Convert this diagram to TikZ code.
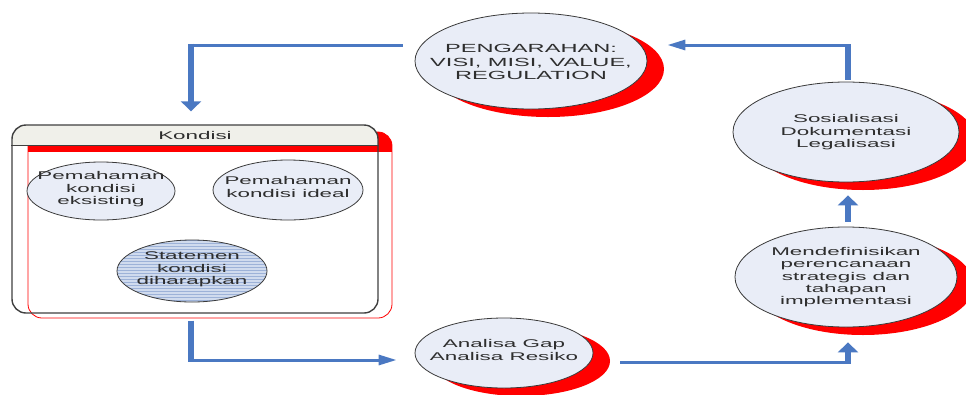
\documentclass[tikz,border=0pt]{standalone}
\usepackage{fontspec}
\setmainfont{Liberation Sans}
\newfontfamily\diagfont[FakeStretch=2.0]{Liberation Sans}
\usetikzlibrary{shapes.geometric,shadows,arrows.meta,patterns,calc}
\definecolor{bubblefill}{HTML}{E9EDF7}
\definecolor{bubbleline}{HTML}{3A3A3A}
\definecolor{flowblue}{HTML}{4A78C2}
\definecolor{headfill}{HTML}{F0F0EA}
\definecolor{boxline}{HTML}{404040}
\definecolor{statefill}{HTML}{D0DBEE}
\definecolor{stateline}{HTML}{9DB2D8}
\definecolor{txt}{HTML}{2E2E2E}
% centred multi-line text that takes no room, so the ellipse keeps its given size
\newcommand\btext[1]{\raisebox{-0.25em}{\makebox[0pt]{\smash{\begin{tabular}{@{}c@{}}#1\end{tabular}}}}}
\begin{document}
\begin{tikzpicture}[x=1pt,y=-1pt,
  bubble/.style={ellipse, draw=bubbleline, line width=0.8pt, fill=bubblefill,
    inner sep=0pt, text=txt,
    font=\fontsize{11.2}{12.4}\selectfont\diagfont},
  stage/.style={bubble, drop shadow={shadow xshift=17pt, shadow yshift=-8pt,
    fill=red, opacity=1}},
  hline/.style={draw=flowblue, line width=3pt},
  vline/.style={draw=flowblue, line width=6pt},
  vtip/.style={-{Triangle[width=20pt,length=10pt]}},
  htip/.style={-{Triangle[length=18pt,width=10pt]}},
]
\useasboundingbox (0,0) rectangle (966,394);
\fill[white] (0,0) rectangle (966,394);

% --- Kondisi container: red offset frame first, then the grey box ---
\begin{scope}
  \clip[rounded corners=14pt] (28,132) rectangle (392,318);
  \fill[red] (28,132) rectangle (392,152);
\end{scope}
\draw[red, line width=0.8pt, rounded corners=14pt] (28,132) rectangle (392,318);
\begin{scope}
  \clip[rounded corners=14pt] (12,125) rectangle (378,313);
  \fill[headfill] (12,125) rectangle (378,145);
\end{scope}
\node[draw=boxline, line width=1.4pt, rounded corners=14pt, inner sep=0pt,
  minimum width=366pt, minimum height=188pt] (kondisi) at (195,219) {};
\draw[boxline, line width=0.8pt] (kondisi.west |- 0,145) -- (kondisi.east |- 0,145);
\node[text=txt, font=\fontsize{11.2}{12.4}\selectfont\diagfont] (kondisiTitle) at (195,135) {Kondisi};

\node[bubble, minimum width=148pt, minimum height=58pt] (eksis) at (101,191)
  {\btext{Pemahaman\\kondisi\\eksisting}};
\node[bubble, minimum width=150pt, minimum height=60pt] (ideal) at (288,190)
  {\btext{Pemahaman\\kondisi ideal}};
\node[bubble, minimum width=150pt, minimum height=62pt,
  preaction={fill=statefill}, pattern=horizontal lines, pattern color=stateline]
  (harap) at (192,271) {\btext{Statemen\\kondisi\\diharapkan}};

% --- cycle stages ---
\node[stage, minimum width=232pt, minimum height=96pt,
  font=\fontsize{11.8}{13.5}\selectfont\diagfont] (arah) at (531,61)
  {\raisebox{-8pt}{\btext{PENGARAHAN:\\VISI, MISI, VALUE,\\REGULATION}}};
\node[stage, minimum width=226pt, minimum height=100pt] (sosial) at (846,132)
  {\raisebox{-4pt}{\btext{Sosialisasi\\Dokumentasi\\Legalisasi}}};
\node[stage, minimum width=222pt, minimum height=100pt] (definisi) at (846,277)
  {\raisebox{-4pt}{\btext{Mendefinisikan\\perencanaan\\strategis dan\\tahapan\\implementasi}}};
\node[stage, minimum width=178pt, minimum height=70pt] (gap) at (504,353)
  {\btext{Analisa Gap\\Analisa Resiko}};

% --- connectors ---
\coordinate (t1) at (191,45);
\coordinate (t2) at (191,360);
\coordinate (t3) at (848,362);
\coordinate (t5) at (848,45);

\draw[hline] ([shift={(-12,-16)}]arah.west) -- ([xshift=-3pt]t1);
\draw[vline, vtip] ([yshift=1.5pt]t1) -- ([yshift=13pt]kondisi.north -| t1);

\draw[vline] ([yshift=-7pt]kondisi.south -| t2) -- ([yshift=-1.5pt]t2);
\draw[hline, htip] ([xshift=-3pt]t2) -- ([xshift=-18pt]gap.west |- t2);

\draw[hline] ([xshift=27pt]gap.east |- t3) -- ([xshift=3pt]t3);
\draw[vline, vtip] ([yshift=-1.5pt]t3) -- ([yshift=-15pt]definisi.south -| t3);

\draw[vline, vtip] ([yshift=5pt]definisi.north -| t3) -- ([yshift=-13pt]sosial.south -| t3);

\draw[vline] ([yshift=2pt]sosial.north -| t5) -- ([yshift=1.5pt]t5);
\draw[hline, htip] ([xshift=3pt]t5) -- ([xshift=20pt,yshift=16pt]arah.east);
\end{tikzpicture}
\end{document}
